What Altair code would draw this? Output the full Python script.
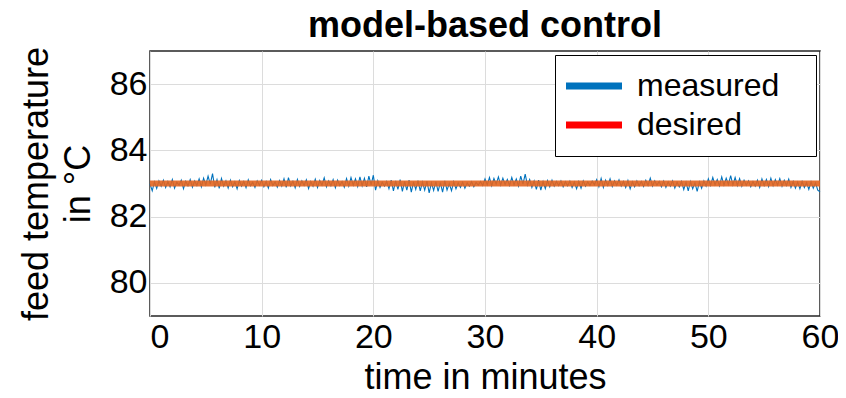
import altair as alt
import pandas as pd

chart_title = "model-based control"
x_title = "time in minutes"
y_title = ["feed temperature", "in °C"]
series_names = ["measured", "desired"]
legend_colors = ["#0072BD", "#FF0000"]
desired_line_color = "#E3651F"
x_ticks = [0, 10, 20, 30, 40, 50, 60]
y_ticks = [80, 82, 84, 86]
sample_step_min = 0.2

measured_values = [
    82.98, 82.78, 83.05, 82.85, 83.08, 82.92, 83.10, 82.88, 83.06, 82.90,
    83.12, 82.86, 83.04, 82.95, 83.10, 82.84, 83.07, 82.93, 83.12, 82.89,
    83.08, 82.94, 83.14, 82.90, 83.16, 82.96, 83.22, 82.98, 83.30, 82.88,
    83.12, 82.85, 83.15, 82.92, 83.08, 82.86, 83.10, 82.90, 83.05, 82.84,
    83.09, 82.92, 83.06, 82.87, 83.11, 82.93, 83.04, 82.88, 83.08, 82.95,
    83.10, 82.90, 83.06, 82.86, 83.12, 82.94, 83.05, 82.89, 83.09, 82.92,
    83.14, 82.88, 83.18, 82.93, 83.07, 82.87, 83.12, 82.91, 83.08, 82.94,
    83.11, 82.85, 83.06, 82.92, 83.13, 82.88, 83.09, 82.95, 83.17, 82.90,
    83.08, 82.93, 83.12, 82.87, 83.10, 82.94, 83.06, 82.89, 83.15, 82.92,
    83.18, 82.95, 83.14, 82.91, 83.20, 82.93, 83.16, 82.90, 83.22, 82.96,
    83.25, 82.80, 83.08, 82.88, 83.04, 82.92, 83.06, 82.84, 83.10, 82.78,
    83.08, 82.82, 83.12, 82.76, 83.06, 82.80, 83.10, 82.74, 83.05, 82.82,
    83.09, 82.78, 83.04, 82.80, 83.07, 82.72, 83.02, 82.79, 83.06, 82.76,
    83.03, 82.74, 83.08, 82.80, 83.00, 82.78, 83.05, 82.84, 83.02, 82.88,
    83.04, 82.86, 83.02, 82.92, 83.05, 82.90, 83.03, 82.95, 83.06, 82.94,
    83.14, 82.96, 83.18, 82.93, 83.15, 82.98, 83.20, 82.95, 83.16, 82.97,
    83.12, 82.94, 83.18, 82.96, 83.14, 82.92, 83.22, 82.98, 83.28, 82.95,
    83.12, 82.88, 83.08, 82.82, 83.10, 82.80, 83.06, 82.85, 83.09, 82.90,
    83.10, 82.92, 83.06, 82.94, 83.08, 82.90, 83.05, 82.93, 83.07, 82.88,
    83.04, 82.84, 83.06, 82.86, 83.08, 82.92, 83.05, 82.94, 83.07, 82.96,
    83.12, 82.90, 83.15, 82.88, 83.10, 82.94, 83.14, 82.91, 83.08, 82.95,
    83.11, 82.92, 83.06, 82.88, 83.09, 82.84, 83.05, 82.90, 83.08, 82.93,
    83.06, 82.91, 83.10, 82.94, 83.16, 82.92, 83.08, 82.95, 83.06, 82.90,
    83.07, 82.88, 83.05, 82.92, 83.08, 82.86, 83.04, 82.90, 83.06, 82.82,
    83.04, 82.78, 83.06, 82.84, 83.02, 82.76, 83.05, 82.86, 83.08, 82.92,
    83.14, 82.94, 83.18, 82.96, 83.12, 82.93, 83.20, 82.95, 83.16, 82.97,
    83.24, 82.96, 83.18, 82.94, 83.15, 82.92, 83.10, 82.95, 83.08, 82.90,
    83.06, 82.92, 83.10, 82.88, 83.14, 82.94, 83.12, 82.91, 83.16, 82.93,
    83.12, 82.95, 83.15, 82.92, 83.10, 82.94, 83.13, 82.88, 83.06, 82.86,
    83.04, 82.84, 83.06, 82.88, 83.03, 82.82, 83.05, 82.86, 83.02, 82.80,
    82.75,
]
desired_time = [0, 60]
desired_values = [83.0, 83.0]

measured_time = [round(i * sample_step_min, 2) for i in range(len(measured_values))]
df_measured = pd.DataFrame({"time": measured_time, "temp": measured_values, "series": "measured"})
df_desired = pd.DataFrame({"time": desired_time, "temp": desired_values, "series": "desired"})

FONT = "Liberation Sans"

x_enc = alt.X(
    "time:Q",
    scale=alt.Scale(domain=[0, 60], nice=False, zero=False),
    axis=alt.Axis(
        values=x_ticks,
        title=x_title,
        labelAlign={"condition": {"test": "datum.value == 0", "value": "left"}, "value": "center"},
        labelPadding=4,
        titlePadding=6,
    ),
)
y_enc = alt.Y(
    "temp:Q",
    scale=alt.Scale(domain=[79, 87], nice=False, zero=False),
    axis=alt.Axis(values=y_ticks, title=y_title, labelPadding=3, titlePadding=12, titleLineHeight=42),
)

color_enc = alt.Color(
    "series:N",
    scale=alt.Scale(domain=series_names, range=legend_colors),
    legend=alt.Legend(
        title=".",
        titleOrient="right",
        titleOpacity=0,
        titleFontSize=10,
        titlePadding=19,
        orient="none",
        legendX=405,
        legendY=4,
        symbolType="M-3.5,0H3.5",
        symbolSize=256,
        symbolStrokeWidth=7,
        symbolOffset=8,
        labelFontSize=32,
        labelFont=FONT,
        labelColor="black",
        labelOffset=27,
        labelLimit=400,
        rowPadding=7,
        padding=15,
        strokeColor="black",
        fillColor="white",
    ),
)

measured = alt.Chart(df_measured).mark_line(strokeWidth=1.1).encode(x=x_enc, y=y_enc, color=color_enc)
desired = alt.Chart(df_desired).mark_line(strokeWidth=6, opacity=0.9, color=desired_line_color).encode(
    x=x_enc, y=y_enc
)

chart = (
    alt.layer(measured, desired)
    .properties(
        width=670,
        height=265,
        title=alt.TitleParams(chart_title, anchor="middle", frame="group", offset=1),
        autosize=alt.AutoSizeParams(type="none"),
        padding={"left": 142, "top": 43, "right": 18, "bottom": 82},
    )
    .configure_view(stroke="#262626", strokeWidth=1.5)
    .configure_axis(
        labelFont=FONT,
        titleFont=FONT,
        labelFontSize=34,
        titleFontSize=36,
        titleFontWeight="normal",
        labelColor="black",
        titleColor="black",
        domain=False,
        ticks=False,
        grid=True,
        gridColor="#DCDCDC",
        gridWidth=1,
    )
    .configure_title(font=FONT, fontSize=36, fontWeight="bold", color="black")
)

chart.save("out.html", embed_options={"renderer": "svg", "actions": False})
